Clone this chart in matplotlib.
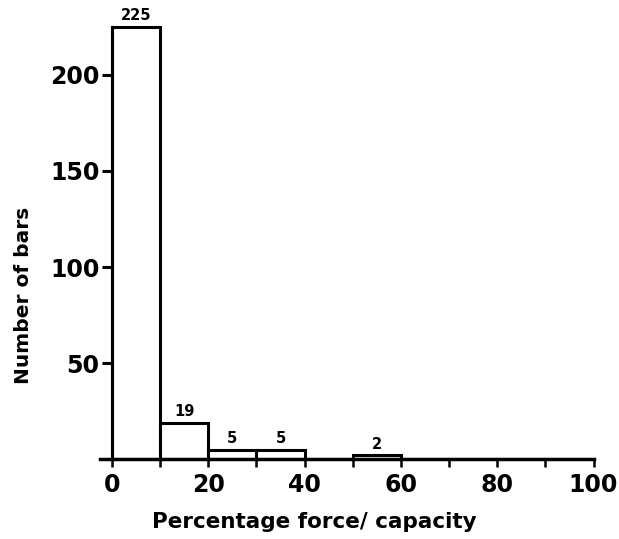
import matplotlib
matplotlib.use("Agg")
import matplotlib.pyplot as plt

# histogram bins (percentage force / capacity) and counts
bin_left = [0, 10, 20, 30, 40, 50, 60, 70, 80, 90]
counts = [225, 19, 5, 5, 0, 2, 0, 0, 0, 0]
labelled = [0, 1, 2, 3, 5]  # bins that carry a count label

x_ticks = [0, 20, 40, 60, 80, 100]
y_ticks = [50, 100, 150, 200]

plt.rcParams['font.family'] = 'DejaVu Sans'
plt.rcParams['font.weight'] = 'bold'

fig = plt.figure(figsize=(6.19, 5.39), dpi=100)
ax = fig.add_axes([0.1616, 0.148, 0.805, 0.813])

ax.bar(bin_left, counts, width=10, align='edge', facecolor='white',
       edgecolor='black', linewidth=2.2)

for i in labelled:
    ax.text(bin_left[i] + 5, counts[i] + 2, str(counts[i]),
            ha='center', va='bottom', fontsize=10.5, fontweight='bold')

ax.set_xlim(-2.5, 101)
ax.set_ylim(0, 228)

ax.spines['top'].set_visible(False)
ax.spines['right'].set_visible(False)
ax.spines['left'].set_position(('data', 0))
ax.spines['left'].set_bounds(0, 225)
ax.spines['left'].set_linewidth(2.2)
ax.spines['bottom'].set_bounds(-2.5, 100)
ax.spines['bottom'].set_linewidth(2.5)

ax.set_xticks(x_ticks)
ax.set_xticks([10, 30, 50, 70, 90], minor=True)
ax.set_yticks(y_ticks)
ax.tick_params(axis='x', which='both', direction='out', length=6, width=1.8,
               labelsize=17, pad=4)
ax.tick_params(axis='y', direction='out', length=7, width=2.2,
               labelsize=17, pad=2)

ax.set_xlabel('Percentage force/ capacity', fontsize=15.5, fontweight='bold')
ax.xaxis.set_label_coords(0.43, -0.12)
ax.set_ylabel('Number of bars', fontsize=14.5, fontweight='bold')
ax.yaxis.set_label_coords(-0.135, 0.375)

fig.savefig('out.png', dpi=100)
